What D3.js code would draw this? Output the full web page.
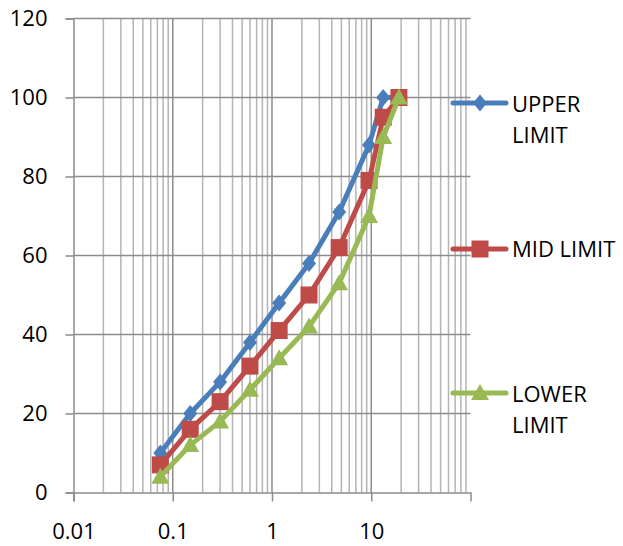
<!DOCTYPE html>
<html>
<head>
<meta charset="utf-8">
<script src="https://cdn.jsdelivr.net/npm/d3@7"></script>
<style>
  body { margin: 0; background: #fff; }
  svg { display: block; font-family: "Open Sans", sans-serif; }
</style>
</head>
<body>
<svg id="chart" width="623" height="546"></svg>
<script>
// sieve sizes (mm) and % passing
const sizes = [0.075, 0.15, 0.3, 0.6, 1.18, 2.36, 4.75, 9.5, 13.2, 19];
const upper = [10, 20, 28, 38, 48, 58, 71, 88, 100, 100];
const mid   = [7, 16, 23, 32, 41, 50, 62, 79, 95, 100];
const lower = [4, 12, 18, 26, 34, 42, 53, 70, 90, 100];
const xTicks = [0.01, 0.1, 1, 10];
const yTicks = [0, 20, 40, 60, 80, 100, 120];

const series = [
  { name: ["UPPER", "LIMIT"], values: upper, color: "#4A7EBB", shape: "diamond" },
  { name: ["MID LIMIT"], values: mid, color: "#BE4B48", shape: "square" },
  { name: ["LOWER", "LIMIT"], values: lower, color: "#98B954", shape: "triangle" }
];

const svg = d3.select("#chart");
const x = d3.scaleLog().domain([0.01, 100]).range([73.5, 470.5]);
const y = d3.scaleLinear().domain([0, 120]).range([492.5, 18.5]);

// minor vertical grid
const minor = [];
[0.01, 0.1, 1, 10].forEach(d => { for (let k = 2; k <= 9; k++) minor.push(d * k); });
svg.append("g").selectAll("line").data(minor).join("line")
  .attr("x1", d => x(d)).attr("x2", d => x(d))
  .attr("y1", y(120)).attr("y2", y(0))
  .attr("stroke", "#b4b4b4").attr("stroke-width", 1.5);

// major vertical grid
svg.append("g").selectAll("line").data(xTicks.slice(1)).join("line")
  .attr("x1", d => x(d)).attr("x2", d => x(d))
  .attr("y1", y(120)).attr("y2", y(0))
  .attr("stroke", "#8c8c8c").attr("stroke-width", 1.5);

// horizontal grid
svg.append("g").selectAll("line").data(yTicks.slice(1)).join("line")
  .attr("x1", x(0.01)).attr("x2", x(100))
  .attr("y1", d => y(d)).attr("y2", d => y(d))
  .attr("stroke", "#8c8c8c").attr("stroke-width", 1.5);

// axes
const yAxis = svg.append("g").attr("transform", `translate(${x(0.01)},0)`)
  .call(d3.axisLeft(y).tickValues(yTicks).tickSize(8).tickPadding(18));
const xAxis = svg.append("g").attr("transform", `translate(0,${y(0)})`)
  .call(d3.axisBottom(x).tickValues(xTicks).tickFormat(d3.format("~g")).tickSize(9).tickPadding(22));
[yAxis, xAxis].forEach(a => {
  a.select(".domain").attr("stroke", "#8c8c8c").attr("stroke-width", 1.5);
  a.selectAll(".tick line").attr("stroke", "#8c8c8c").attr("stroke-width", 1.5);
  a.selectAll("text").attr("font-size", 22).attr("fill", "#000").attr("font-family", "Open Sans");
});
xAxis.selectAll("text").attr("dy", "0.71em");

function marker(g, shape, color) {
  if (shape === "diamond")
    g.append("path").attr("d", "M0,-8.5L7,0L0,8.5L-7,0Z").attr("fill", color);
  else if (shape === "square")
    g.append("rect").attr("x", -8.5).attr("y", -8.5).attr("width", 17).attr("height", 17).attr("fill", color);
  else
    g.append("path").attr("d", "M0,-9L9,7L-9,7Z").attr("fill", color);
}

const line = d3.line().x(d => x(d[0])).y(d => y(d[1]));

series.forEach(s => {
  const pts = sizes.map((v, i) => [v, s.values[i]]);
  svg.append("path").datum(pts).attr("d", line)
    .attr("fill", "none").attr("stroke", s.color).attr("stroke-width", 5)
    .attr("stroke-linejoin", "round").attr("stroke-linecap", "round");
  pts.forEach(p => {
    marker(svg.append("g").attr("transform", `translate(${x(p[0])},${y(p[1])})`), s.shape, s.color);
  });
});

// legend
const legendY = [103, 249, 393];
series.forEach((s, i) => {
  const g = svg.append("g").attr("transform", `translate(0,${legendY[i]})`);
  g.append("line").attr("x1", 453).attr("x2", 506).attr("y1", 0).attr("y2", 0)
    .attr("stroke", s.color).attr("stroke-width", 5).attr("stroke-linecap", "round");
  marker(g.append("g").attr("transform", "translate(480,0)"), s.shape, s.color);
  s.name.forEach((t, j) => {
    g.append("text").attr("x", 512).attr("y", (s.name.length === 1 ? 8 : 9) + j * 31)
      .attr("font-size", 22).attr("fill", "#000").text(t);
  });
});
</script>
</body>
</html>
